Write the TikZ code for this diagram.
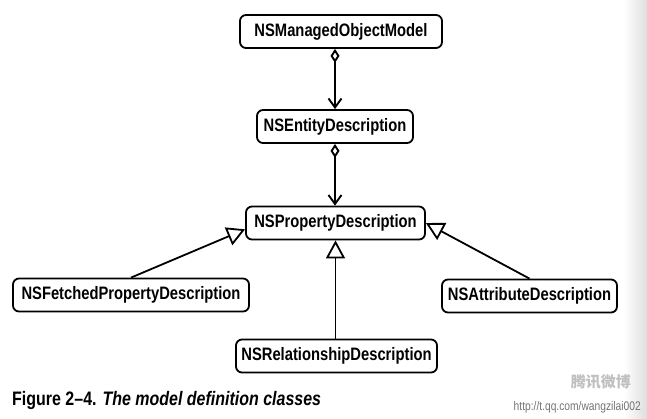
\documentclass[tikz,border=0pt]{standalone}
\usepackage{fontspec}
\usetikzlibrary{arrows.meta}
\newfontfamily\condfont[FakeStretch=0.82]{Liberation Sans}
\newfontfamily\cjkfont{Noto Sans CJK SC}

\begin{document}
\begin{tikzpicture}[x=1pt,y=-1pt,
  cls/.style={draw,line width=1.8pt,rounded corners=6pt,minimum height=33pt,
    inner sep=0pt,font=\condfont\bfseries\fontsize{18}{20}\selectfont},
  assoc/.style={line width=1.9pt,
    {Diamond[open,length=14pt,width=9pt]}-{Straight Barb[length=9pt,width=13pt]}},
  inherit/.style={line width=1.8pt,-{Triangle[open,length=18pt,width=19pt]}}]
  \useasboundingbox (0,0) rectangle (647,418);
  % page shadow on the right edge
  \shade[left color=white,right color=black!13] (624,0) rectangle (647,418);
  % class boxes
  \node[cls,minimum width=202pt] (model) at (341,31.5) {NSManagedObjectModel};
  \node[cls,minimum width=156pt] (entity) at (335,126.5) {NSEntityDescription};
  \node[cls,minimum width=179pt] (property) at (335.5,223) {NSPropertyDescription};
  \node[cls,minimum width=236pt] (fetched) at (131,295) {NSFetchedPropertyDescription};
  \node[cls,minimum width=175pt] (attribute) at (529.5,296) {NSAttributeDescription};
  \node[cls,minimum width=201pt] (relation) at (336.5,356) {NSRelationshipDescription};
  % aggregation: model -> entity -> property
  \draw[assoc] (model.south -| entity.north) -- (entity.north);
  \draw[assoc] (entity.south) -- (entity.south |- property.north);
  % generalization
  \draw[inherit] (fetched.north) -- (property.184);
  \draw[inherit] (attribute.north) -- (property.east);
  \draw[inherit] (relation.north -| property.south) -- (property.south);
  % caption
  \node[anchor=west,inner sep=0pt,font=\condfont\fontsize{19.5}{22}\selectfont] (caption) at (12,400)
    {\textbf{Figure 2–4.} \textbf{\itshape The model definition classes}};
  % watermark
  \node[anchor=east,inner sep=0pt,text=black!25,font=\cjkfont\bfseries\fontsize{15}{16}\selectfont] (mark) at (631,382) {腾讯微博};
  \node[anchor=east,inner sep=0pt,text=black!55,font=\condfont\fontsize{12.5}{14}\selectfont] (url) at (641,407) {http://t.qq.com/wangzilai002};
\end{tikzpicture}
\end{document}
